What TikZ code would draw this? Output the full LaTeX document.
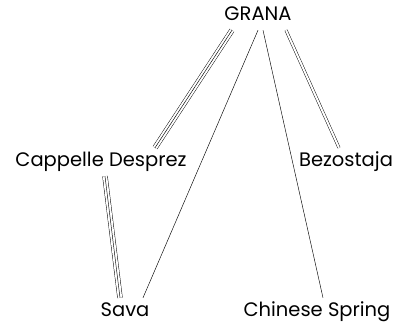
\documentclass[tikz,border=0pt]{standalone}
\usepackage{fontspec}
\setmainfont{Poppins}
\usepackage{tikz}
\usetikzlibrary{positioning}

\begin{document}
\begin{tikzpicture}[x=1pt, y=-1pt,
        every node/.style={anchor=base, inner xsep=0pt, inner ysep=5pt,
                           text height=14pt, text depth=4pt,
                           font=\fontsize{19.5}{22}\selectfont},
        line/.style={line width=0.45pt},
        twin/.style={line, double, double distance=2pt},
        trio/.style={line, double, double distance=4.4pt,
                     postaction={draw, line width=0.45pt}}]
      \useasboundingbox (0,0) rectangle (402,323);
      \node (grana) at (258,21)  {GRANA};
      \node (capd)  at (101,167) {Cappelle Desprez};
      \node (bezo)  at (346,167) {Bezostaja};
      \node (sava)  at (125,317) {Sava};
      \node (chsp)  at (317,317) {Chinese Spring};
      \draw[trio] ([xshift=-26pt]grana.south) -- ([xshift=54pt]capd.north);
      \draw[line] (grana.south) -- ([xshift=18pt]sava.north);
      \draw[line] ([xshift=5pt]grana.south) -- ([xshift=6pt]chsp.north);
      \draw[twin] ([xshift=28pt]grana.south) -- ([xshift=-7pt]bezo.north);
      \draw[trio] ([xshift=4pt]capd.south) -- ([xshift=-5pt]sava.north);
    \end{tikzpicture}
\end{document}
